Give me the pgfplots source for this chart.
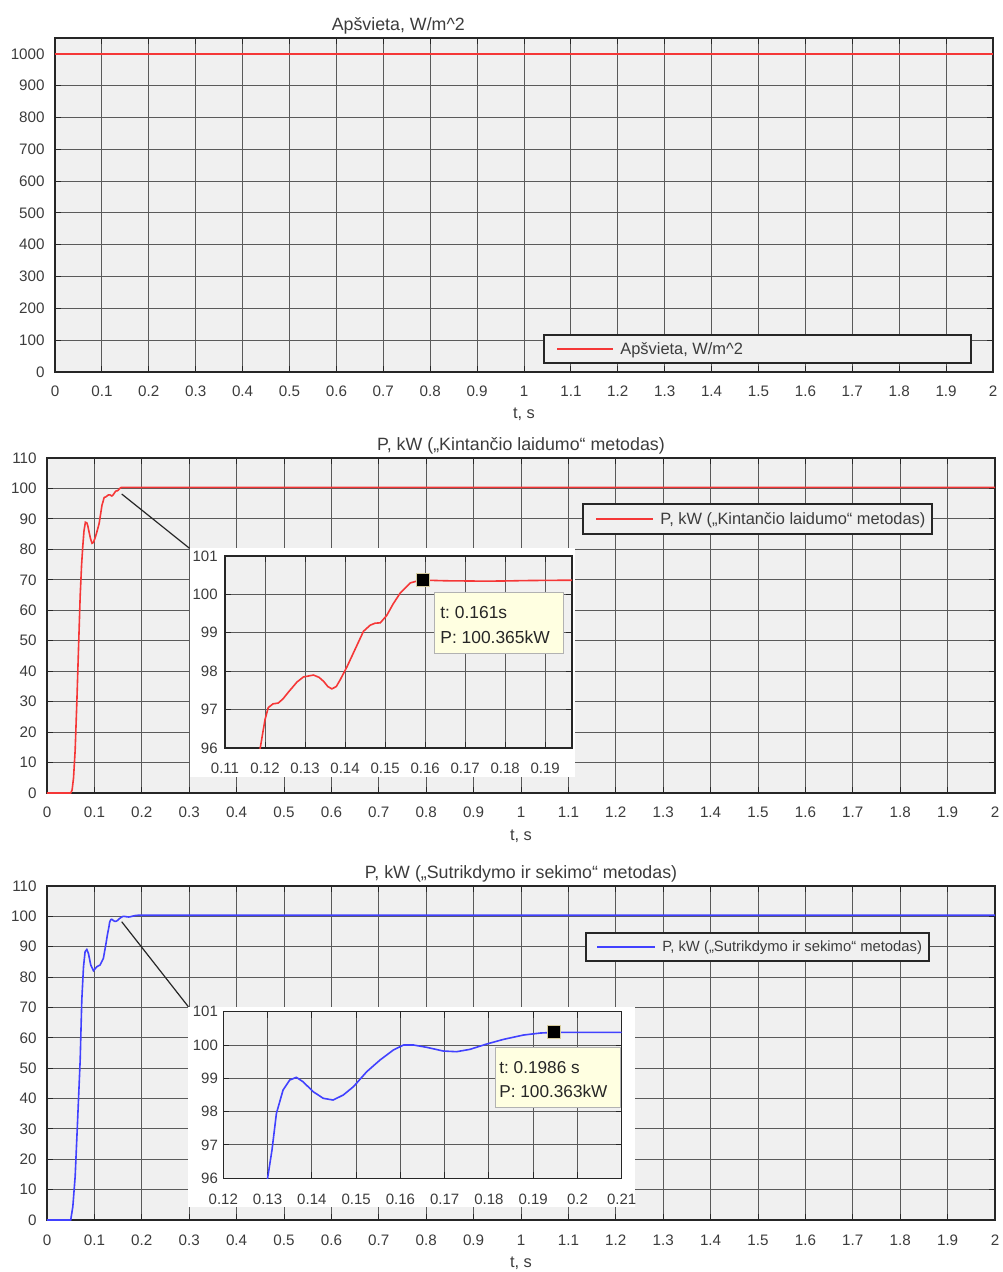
\documentclass[border=0pt]{standalone}
\usepackage{fontspec}
\setmainfont{Liberation Sans}
\usepackage{pgfplots}
\pgfplotsset{compat=1.18}
\frenchspacing

\definecolor{bgc}{RGB}{240,240,240}
\definecolor{gridc}{RGB}{90,90,90}
\definecolor{axc}{RGB}{38,38,38}
\definecolor{txc}{RGB}{60,60,60}
\definecolor{myred}{RGB}{245,55,55}
\definecolor{myblue}{RGB}{65,65,255}
\definecolor{tipc}{RGB}{255,255,225}

\pgfplotsset{
  matlab/.style={
    scale only axis,
    anchor=south west,
    axis background/.style={fill=bgc},
    grid=major,
    major grid style={gridc, line width=0.5pt},
    axis line style={axc, line width=0.6pt},
    tick align=inside,
    major tick length=3pt,
    tick style={axc, line width=0.5pt},
    ticklabel style={font=\fontsize{7.6}{9}\selectfont, text=txc},
    /pgf/number format/assume math mode=true,
    /pgf/number format/1000 sep={},
    xticklabel style={anchor=center, inner sep=0pt, yshift=-9.5pt},
    yticklabel style={anchor=east, inner sep=0pt, xshift=-5pt},
    title style={font=\fontsize{8.9}{10}\selectfont, text=txc, at={(axis description cs:0.5,1)}, anchor=center, yshift=0pt},
    xlabel style={font=\fontsize{8.2}{9}\selectfont, text=txc, at={(axis description cs:0.5,0)}, anchor=center, yshift=-21.5pt},
  },
  mainx/.style={
    xmin=0, xmax=2,
    xtick={0,0.1,0.2,0.3,0.4,0.5,0.6,0.7,0.8,0.9,1,1.1,1.2,1.3,1.4,1.5,1.6,1.7,1.8,1.9,2},
    xticklabels={0,0.1,0.2,0.3,0.4,0.5,0.6,0.7,0.8,0.9,1,1.1,1.2,1.3,1.4,1.5,1.6,1.7,1.8,1.9,2},
    xlabel={t, s},
  },
  inset/.style={
    matlab,
    ymin=96, ymax=101, ytick={96,97,98,99,100,101},
    ticklabel style={font=\fontsize{7.5}{9}\selectfont, text=txc},
  },
  tipmark/.style={only marks, mark=square*, mark size=3.25pt,
    mark options={fill=black, draw={rgb,255:red,215;green,205;blue,160}, line width=0.5pt}},
}

\begin{document}
\begin{tikzpicture}
\path[use as bounding box] (0pt,0pt) rectangle (501pt,-636pt);

% ---------------- Panel 1 ----------------
\begin{axis}[matlab, mainx,
  at={(27.5pt,-186pt)}, width=469pt, height=167pt,
  ymin=0, ymax=1050, ytick={0,100,...,1000},
  title={Apšvieta, W/m\textasciicircum 2},
  title style={at={(axis description cs:0.366,1)}},
  xlabel style={yshift=0.5pt},
]
\addplot[myred, line width=0.8pt] coordinates {(0,1000) (2,1000)};
\end{axis}

\begin{scope}[x=0.5pt,y=-0.5pt]
\draw[axc, line width=0.6pt, fill=bgc] (544,335) rectangle (971,363);
\draw[myred, line width=0.8pt] (557,349) -- (613,349);
\node[anchor=west, inner sep=0pt, font=\fontsize{8.2}{9}\selectfont, text=txc] at (620,350) {Apšvieta, W/m\textasciicircum 2};
\end{scope}

% ---------------- Panel 2 ----------------
\begin{axis}[matlab, mainx,
  at={(23.5pt,-396.5pt)}, width=474pt, height=167.5pt,
  ymin=0, ymax=110, ytick={0,10,...,110},
  title={P, kW („Kintančio laidumo“ metodas)},
]
\addplot[myred, line width=0.8pt] coordinates {
(0,0) (0.05,0) (0.053,1) (0.056,5) (0.0594,14) (0.063,30) (0.067,50) (0.07,64.7)
(0.073,75) (0.0755,81) (0.078,86) (0.081,88.9) (0.084,88.7) (0.086,87.8) (0.089,85.5)
(0.092,83.4) (0.095,82) (0.098,82.3) (0.102,84) (0.105,85.6) (0.11,88.5) (0.113,91.5)
(0.116,94.5) (0.1188,96.0) (0.12,96.74) (0.1208,97.05) (0.122,97.15) (0.1233,97.17)
(0.1245,97.28) (0.1258,97.45) (0.128,97.72) (0.1296,97.85) (0.1321,97.9) (0.1335,97.84)
(0.1346,97.74) (0.1357,97.6) (0.1367,97.54) (0.1378,97.6) (0.1388,97.78) (0.1405,98.12)
(0.1421,98.48) (0.1446,99.04) (0.1463,99.2) (0.1475,99.25) (0.1488,99.26) (0.1504,99.45)
(0.152,99.75) (0.1538,100.04) (0.1563,100.3) (0.1588,100.37) (0.16,100.37) (0.17,100.35)
(0.18,100.35) (0.19,100.365) (0.2,100.37) (2,100.37)};
\end{axis}

\begin{scope}[x=0.5pt,y=-0.5pt]
\draw[axc, line width=0.6pt, fill=bgc] (583,504) rectangle (932,534);
\draw[myred, line width=0.8pt] (596,519) -- (653,519);
\node[anchor=west, inner sep=0pt, font=\fontsize{8.2}{9}\selectfont, text=txc] at (660,520) {P, kW („Kintančio laidumo“ metodas)};
\draw[axc, line width=0.6pt] (121.7,494) -- (189.5,548.3);
\fill[white] (190,548) rectangle (575,777);
\end{scope}

\begin{axis}[inset,
  at={(112.5pt,-374pt)}, width=173.5pt, height=96pt,
  xmin=0.11, xmax=0.1967,
  xtick={0.11,0.12,0.13,0.14,0.15,0.16,0.17,0.18,0.19},
  xticklabels={0.11,0.12,0.13,0.14,0.15,0.16,0.17,0.18,0.19},
  xticklabel style={yshift=-0.5pt},
  yticklabel style={xshift=1.5pt},
]
\addplot[myred, line width=0.8pt] coordinates {
(0.118,95.5) (0.1188,96.0) (0.12,96.74) (0.1208,97.05) (0.122,97.15) (0.1233,97.17)
(0.1245,97.28) (0.1258,97.45) (0.128,97.72) (0.1296,97.85) (0.1321,97.9) (0.1335,97.84)
(0.1346,97.74) (0.1357,97.6) (0.1367,97.54) (0.1378,97.6) (0.1388,97.78) (0.1405,98.12)
(0.1421,98.48) (0.1446,99.04) (0.1463,99.2) (0.1475,99.25) (0.1488,99.26) (0.1504,99.45)
(0.152,99.75) (0.1538,100.04) (0.1563,100.3) (0.1588,100.37) (0.16,100.37) (0.165,100.355)
(0.17,100.35) (0.175,100.345) (0.18,100.35) (0.185,100.36) (0.19,100.365) (0.197,100.37)};
\addplot[tipmark] coordinates {(0.1595,100.365)};
\end{axis}

\begin{scope}[x=0.5pt,y=-0.5pt]
\draw[gray!60, line width=0.4pt, fill=tipc] (434,592) rectangle (563,653);
\node[anchor=base west, inner sep=0pt, font=\fontsize{8.7}{10}\selectfont, text=axc] at (440,618) {t: 0.161s};
\node[anchor=base west, inner sep=0pt, font=\fontsize{8.7}{10}\selectfont, text=axc] at (440,643) {P: 100.365kW};
\end{scope}

% ---------------- Panel 3 ----------------
\begin{axis}[matlab, mainx,
  at={(23.5pt,-610pt)}, width=474pt, height=167pt,
  ymin=0, ymax=110, ytick={0,10,...,110},
  title={P, kW („Sutrikdymo ir sekimo“ metodas)},
  xticklabel style={yshift=-0.5pt},
]
\addplot[myblue, line width=0.8pt] coordinates {
(0,0) (0.05,0) (0.0545,4.4) (0.0594,14.3) (0.064,30.7) (0.07,52.7) (0.0734,72.4)
(0.077,83.4) (0.0804,88.4) (0.084,89.1) (0.0874,87.8) (0.0923,84) (0.098,82.1)
(0.105,83.4) (0.112,84) (0.119,86.2) (0.1245,91.1) (0.1275,94) (0.13,96) (0.131,96.85)
(0.132,97.95) (0.1335,98.65) (0.135,98.95) (0.1365,99.03) (0.138,98.9) (0.1403,98.6)
(0.1426,98.4) (0.1448,98.35) (0.1471,98.5) (0.1494,98.75) (0.1524,99.2) (0.1554,99.55)
(0.1584,99.85) (0.1607,100.0) (0.163,100.0) (0.166,99.93) (0.1697,99.82) (0.1727,99.8)
(0.1757,99.87) (0.1795,100.03) (0.1833,100.17) (0.1878,100.3) (0.1916,100.36)
(0.1946,100.38) (0.21,100.38) (2,100.37)};
\end{axis}

\begin{scope}[x=0.5pt,y=-0.5pt]
\draw[axc, line width=0.6pt, fill=bgc] (586,933) rectangle (929,961);
\draw[myblue, line width=0.8pt] (597,947) -- (655,947);
\node[anchor=west, inner sep=0pt, font=\fontsize{7.4}{9}\selectfont, text=txc] at (662,948) {P, kW („Sutrikdymo ir sekimo“ metodas)};
\draw[axc, line width=0.6pt] (121.7,921.7) -- (188.5,1006.9);
\fill[white] (188,1007) rectangle (635,1207);
\end{scope}

\begin{axis}[inset,
  at={(111.65pt,-589.15pt)}, width=199.2pt, height=83.3pt,
  xmin=0.12, xmax=0.21,
  xtick={0.12,0.13,0.14,0.15,0.16,0.17,0.18,0.19,0.2,0.21},
  xticklabels={0.12,0.13,0.14,0.15,0.16,0.17,0.18,0.19,0.2,0.21},
  xticklabel style={yshift=-1pt},
  yticklabel style={xshift=2.5pt},
]
\addplot[myblue, line width=0.8pt] coordinates {
(0.1298,95.8) (0.13,96) (0.131,96.85) (0.132,97.95) (0.1335,98.65) (0.135,98.95)
(0.1365,99.03) (0.138,98.9) (0.1403,98.6) (0.1426,98.4) (0.1448,98.35) (0.1471,98.5)
(0.1494,98.75) (0.1524,99.2) (0.1554,99.55) (0.1584,99.85) (0.1607,100.0) (0.163,100.0)
(0.166,99.93) (0.1697,99.82) (0.1727,99.8) (0.1757,99.87) (0.1795,100.03) (0.1833,100.17)
(0.1878,100.3) (0.1916,100.36) (0.1946,100.38) (0.21,100.38)};
\addplot[tipmark] coordinates {(0.1946,100.38)};
\end{axis}

\begin{scope}[x=0.5pt,y=-0.5pt]
\draw[gray!60, line width=0.4pt, fill=tipc] (495,1047) rectangle (620,1107);
\node[anchor=base west, inner sep=0pt, font=\fontsize{8.6}{10}\selectfont, text=axc] at (499,1073) {t: 0.1986 s};
\node[anchor=base west, inner sep=0pt, font=\fontsize{8.6}{10}\selectfont, text=axc] at (499,1097) {P: 100.363kW};
\end{scope}

\end{tikzpicture}
\end{document}
